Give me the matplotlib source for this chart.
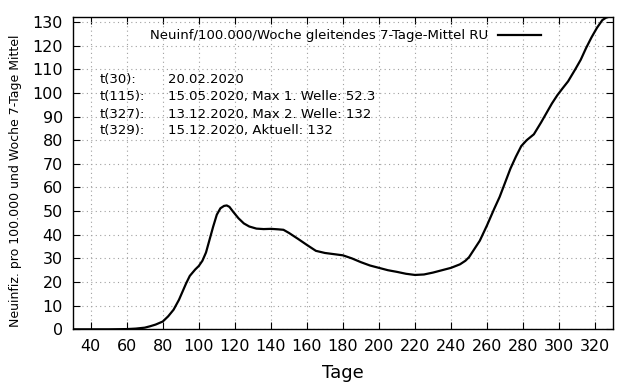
import matplotlib
matplotlib.use("Agg")
import matplotlib.pyplot as plt

# 7-day mean of new infections per 100,000 per week (RU)
days = [30, 40, 50, 60, 65, 70, 73, 76, 80, 83, 86, 89, 91, 93, 95, 98, 100,
        102, 104, 106, 108, 110, 112, 114, 115.5, 117, 119, 122, 125, 128, 132,
        136, 140, 144, 147, 150, 155, 160, 165, 170, 175, 180, 185, 190, 195,
        200, 205, 210, 215, 220, 225, 230, 235, 240, 245, 248, 250, 253, 256,
        260, 264, 267, 270, 273, 276, 279, 282, 286, 290, 293, 296, 299, 302,
        305, 309, 312, 315, 318, 321, 324, 326, 328, 329]
values = [0, 0, 0, 0.1, 0.3, 0.7, 1.3, 2.0, 3.3, 5.5, 8.3, 12.5, 16, 19.5,
          22.6, 25.3, 26.8, 29, 32.5, 38, 43.5, 48.5, 51.2, 52.2, 52.4, 51.8,
          49.8, 47, 44.8, 43.5, 42.6, 42.4, 42.5, 42.3, 42.1, 40.8, 38.3, 35.7,
          33.2, 32.3, 31.8, 31.3, 30, 28.4, 27, 26, 25, 24.3, 23.5, 23, 23.2,
          24, 25, 26, 27.5, 29, 30.5, 34, 37.5, 44, 51, 56, 62, 68, 73, 77.5,
          80, 82.5, 87.5, 91.5, 95.5, 99, 102, 104.9, 110, 114, 119, 123.5, 127.5,
          130.8, 131.8, 132.3, 132.3]

notes_left = ["t(30):", "t(115):", "t(327):", "t(329):"]
notes_right = ["20.02.2020", "15.05.2020, Max 1. Welle: 52.3",
               "13.12.2020, Max 2. Welle: 132", "15.12.2020, Aktuell: 132"]

fig = plt.figure(figsize=(6.4, 3.84), dpi=100)
ax = fig.add_axes([0.1136, 0.1424, 0.8444, 0.8126])

ax.plot(days, values, color="black", lw=1.6,
        label="Neuinf/100.000/Woche gleitendes 7-Tage-Mittel RU")

ax.set_xlim(30, 330)
ax.set_ylim(0, 132)
ax.set_xticks(range(40, 330, 20))
ax.set_yticks(range(0, 131, 10))
ax.tick_params(direction="in", top=True, right=True, length=5, labelsize=11.5, pad=7)
ax.grid(True, color="#a0a0a0", ls=(0, (1, 3)), lw=0.8)
for s in ax.spines.values():
    s.set_linewidth(1.0)

ax.set_xlabel("Tage", fontsize=13, labelpad=7)
ax.set_ylabel("Neuinfiz. pro 100.000 und Woche 7-Tage Mittel", fontsize=9)
ax.yaxis.set_label_coords(-0.093, 0.475)

ax.legend(loc="upper center", bbox_to_anchor=(0.504, 1.0), frameon=False,
          markerfirst=False, fontsize=9.5, handlelength=3.2)

ys = [0.799, 0.745, 0.690, 0.636]
for a, b, y in zip(notes_left, notes_right, ys):
    ax.text(0.0505, y, a, transform=ax.transAxes, fontsize=9.5, va="center")
    ax.text(0.176, y, b, transform=ax.transAxes, fontsize=9.5, va="center")

fig.savefig("out.png", dpi=100)
